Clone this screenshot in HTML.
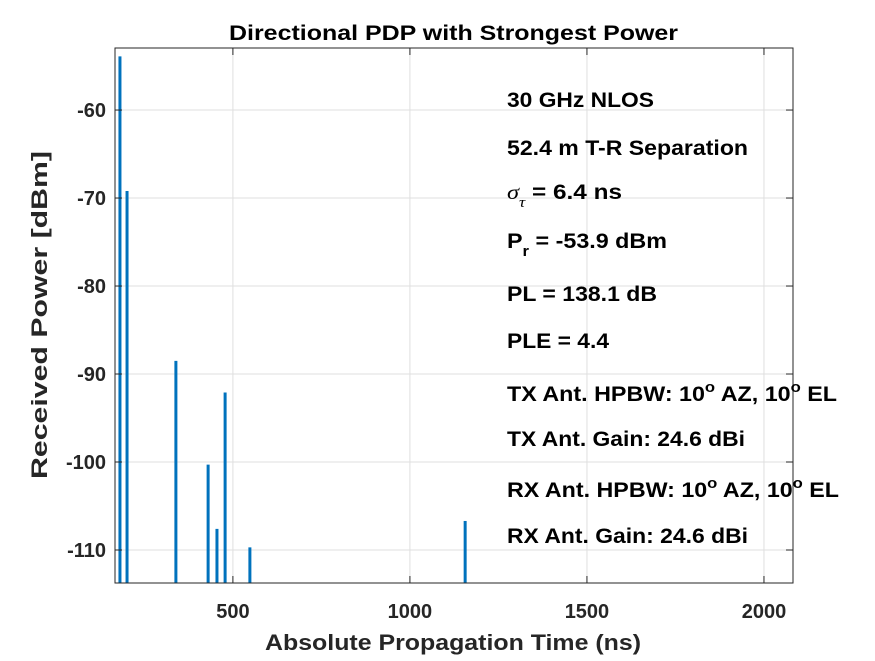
<!DOCTYPE html>
<html><head><meta charset="utf-8"><style>
body{margin:0;background:#fff;}
text{font-family:"Liberation Sans",sans-serif;}
</style></head><body>
<svg width="875" height="656" xmlns="http://www.w3.org/2000/svg">
<rect width="875" height="656" fill="#fff"/>
<rect x="115" y="48" width="678" height="535" fill="#fff"/>
<g id="grid"></g>
<g id="bars"></g>
<rect x="115" y="48" width="678" height="535" fill="none" stroke="#262626" stroke-width="1"/>
<g id="ticks"></g>
<text x="229" y="40" textLength="449" lengthAdjust="spacingAndGlyphs" font-size="21" font-weight="bold" fill="#000">Directional PDP with Strongest Power</text>
<text x="265" y="650" textLength="376" lengthAdjust="spacingAndGlyphs" font-size="22" font-weight="bold" fill="#262626">Absolute Propagation Time (ns)</text>
<text transform="translate(47,479) rotate(-90)" textLength="328" lengthAdjust="spacingAndGlyphs" font-size="22" font-weight="bold" fill="#262626">Received Power [dBm]</text>
<g font-size="21" font-weight="bold" fill="#000">
<text x="507" y="107" textLength="147" lengthAdjust="spacingAndGlyphs">30 GHz NLOS</text>
<text x="507" y="155" textLength="241" lengthAdjust="spacingAndGlyphs">52.4 m T-R Separation</text>
<text x="507" y="199" textLength="115" lengthAdjust="spacingAndGlyphs"><tspan font-family="Liberation Serif" font-style="italic" font-weight="normal">σ</tspan><tspan font-family="Liberation Serif" font-style="italic" font-weight="normal" font-size="15" dy="8">τ</tspan><tspan dy="-8"> = 6.4 ns</tspan></text>
<text x="507" y="248" textLength="160" lengthAdjust="spacingAndGlyphs">P<tspan font-size="15" dy="8">r</tspan><tspan dy="-8"> = -53.9 dBm</tspan></text>
<text x="507" y="301" textLength="150" lengthAdjust="spacingAndGlyphs">PL = 138.1 dB</text>
<text x="507" y="348" textLength="102" lengthAdjust="spacingAndGlyphs">PLE = 4.4</text>
<text x="507" y="401" textLength="330" lengthAdjust="spacingAndGlyphs">TX Ant. HPBW: 10<tspan font-size="15" dy="-9">o</tspan><tspan dy="9"> AZ, 10</tspan><tspan font-size="15" dy="-9">o</tspan><tspan dy="9"> EL</tspan></text>
<text x="507" y="446" textLength="238" lengthAdjust="spacingAndGlyphs">TX Ant. Gain: 24.6 dBi</text>
<text x="507" y="497" textLength="332" lengthAdjust="spacingAndGlyphs">RX Ant. HPBW: 10<tspan font-size="15" dy="-9">o</tspan><tspan dy="9"> AZ, 10</tspan><tspan font-size="15" dy="-9">o</tspan><tspan dy="9"> EL</tspan></text>
<text x="507" y="543" textLength="241" lengthAdjust="spacingAndGlyphs">RX Ant. Gain: 24.6 dBi</text>
</g>
</svg>
<script>
const delays=[181,201,339,430,455,478,548,1156];
const powers=[-53.9,-69.2,-88.5,-100.3,-107.6,-92.1,-109.7,-106.7];
const xTicks=[500,1000,1500,2000];
const yTicks=[-60,-70,-80,-90,-100,-110];
const X0=167,X1=2082,Y0=-113.75,Y1=-52.95;
const L=115,R=793,T=48,B=583;
const sx=v=>L+(v-X0)/(X1-X0)*(R-L);
const sy=v=>B-(v-Y0)/(Y1-Y0)*(B-T);
const NS='http://www.w3.org/2000/svg';
function mk(tag,a){const e=document.createElementNS(NS,tag);for(const k in a)e.setAttribute(k,a[k]);return e;}
const grid=document.getElementById('grid'),ticks=document.getElementById('ticks'),bars=document.getElementById('bars');
xTicks.forEach(t=>{const x=sx(t);
const g=mk('line',{x1:x,x2:x,y1:T,y2:B,stroke:'#dfdfdf'});grid.appendChild(g);
const tk=mk('line',{x1:x,x2:x,y1:B,y2:B-7,stroke:'#262626'});ticks.appendChild(tk);
const tk2=mk('line',{x1:x,x2:x,y1:T,y2:T+7,stroke:'#262626'});ticks.appendChild(tk2);
const tx=mk('text',{x:x,y:B+35,'text-anchor':'middle','font-size':20,'font-weight':'bold',fill:'#262626'});tx.textContent=t;ticks.appendChild(tx);});
yTicks.forEach(t=>{const y=sy(t);
const g=mk('line',{x1:L,x2:R,y1:y,y2:y,stroke:'#dfdfdf'});grid.appendChild(g);
const tk=mk('line',{x1:L,x2:L+7,y1:y,y2:y,stroke:'#262626'});ticks.appendChild(tk);
const tk2=mk('line',{x1:R,x2:R-7,y1:y,y2:y,stroke:'#262626'});ticks.appendChild(tk2);
const tx=mk('text',{x:L-9,y:y+7,'text-anchor':'end','font-size':20,'font-weight':'bold',fill:'#262626'});tx.textContent=t;ticks.appendChild(tx);});
delays.forEach((d,i)=>{const x=sx(d),y=sy(powers[i]);
const b=mk('line',{x1:x,x2:x,y1:B,y2:y,stroke:'#0072bd','stroke-width':3});bars.appendChild(b);});
</script>
</body></html>
